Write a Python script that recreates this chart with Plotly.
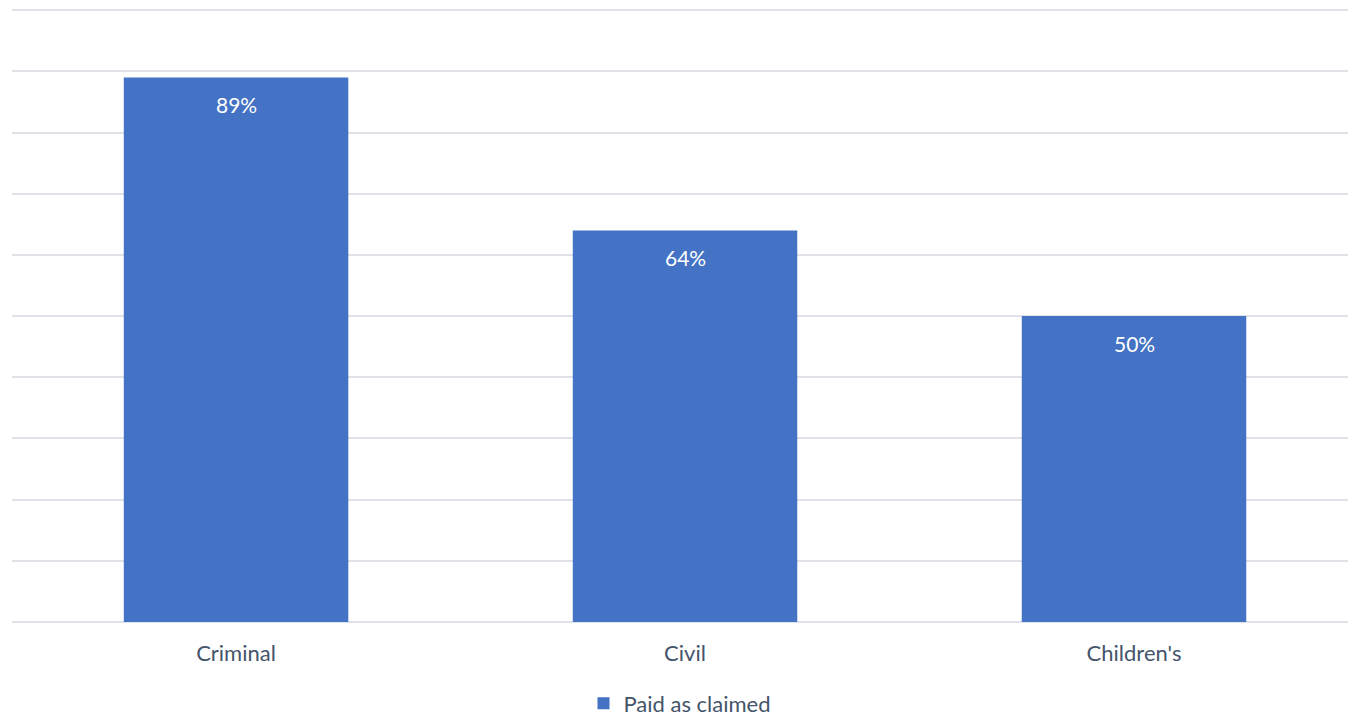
import plotly.graph_objects as go

categories = ["Criminal", "Civil", "Children's"]
values = [89, 64, 50]
series_name = "Paid as claimed"

BAR = "#4472C4"
GRID = "#dfe2e8"
TXT = "#44546A"
FONT = "Lato"

fig = go.Figure()
fig.add_trace(go.Bar(
    x=categories, y=values, name=series_name,
    marker=dict(color=BAR, line=dict(width=0)),
    width=0.5, hoverinfo="skip", showlegend=True,
))

for c, v in zip(categories, values):
    fig.add_annotation(x=c, y=v, text=f"{v}%", showarrow=False,
                       yanchor="middle", yshift=-27,
                       font=dict(family=FONT, size=21, color="white"))

fig.update_layout(
    width=1348, height=717,
    margin=dict(l=12, r=0, t=9, b=95, autoexpand=False),
    paper_bgcolor="white", plot_bgcolor="white",
    font=dict(family=FONT, color=TXT, size=22),
    bargap=0.5,
    showlegend=True,
    legend=dict(orientation="h", x=0.5, xanchor="center", yref="container",
                y=0.019, yanchor="middle", borderwidth=0,
                font=dict(family=FONT, size=22, color=TXT), itemwidth=30),
    xaxis=dict(range=[-0.499, 2.4766], showgrid=False, showline=False, zeroline=False,
               ticks="", ticklabelstandoff=16, tickfont=dict(family=FONT, size=22, color=TXT)),
    yaxis=dict(range=[0, 100.2], tickvals=[0, 10, 20, 30, 40, 50, 60, 70, 80, 90, 100],
               showgrid=True, gridcolor=GRID, gridwidth=1.5,
               showticklabels=False, zeroline=True, zerolinecolor=GRID, zerolinewidth=1.5,
               showline=False),
)

fig.write_html("out.html")
